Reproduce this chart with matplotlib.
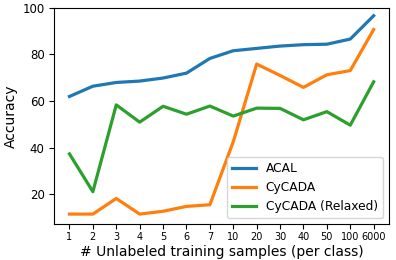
import numpy as np
import matplotlib
matplotlib.use("Agg")
import matplotlib.pyplot as plt

samples = ["1", "2", "3", "4", "5", "6", "7", "10", "20", "30", "40", "50", "100", "6000"]
acal = [62.0, 66.4, 68.0, 68.6, 69.9, 72.0, 78.3, 81.6, 82.6, 83.6, 84.2, 84.4, 86.6, 96.6]
cycada = [11.6, 11.6, 18.3, 11.6, 12.8, 14.9, 15.6, 42.6, 75.9, 71.0, 65.9, 71.3, 73.1, 90.7]
cycada_relaxed = [37.4, 21.2, 58.4, 51.0, 57.8, 54.4, 57.9, 53.6, 57.0, 56.9, 52.0, 55.5, 49.7, 68.3]

x = np.arange(1, len(samples) + 1)

fig, ax = plt.subplots(figsize=(3.96, 2.6), dpi=100)
ax.plot(x, acal, lw=2.3, label="ACAL")
ax.plot(x, cycada, lw=2.3, label="CyCADA")
ax.plot(x, cycada_relaxed, lw=2.3, label="CyCADA (Relaxed)")

ax.set_xticks(x)
ax.set_xticklabels(samples, fontsize=7)
ax.tick_params(axis="x", pad=2.5)
ax.tick_params(axis="y", labelsize=8.5)
ax.set_ylim(7.3, 100)
ax.set_xlabel("# Unlabeled training samples (per class)", fontsize=10, labelpad=2)
ax.set_ylabel("Accuracy", fontsize=10, labelpad=3)
ax.legend(loc="lower right", fontsize=8.8)

fig.subplots_adjust(left=0.137, right=0.982, top=0.97, bottom=0.138)
fig.savefig("out.png", dpi=100)
